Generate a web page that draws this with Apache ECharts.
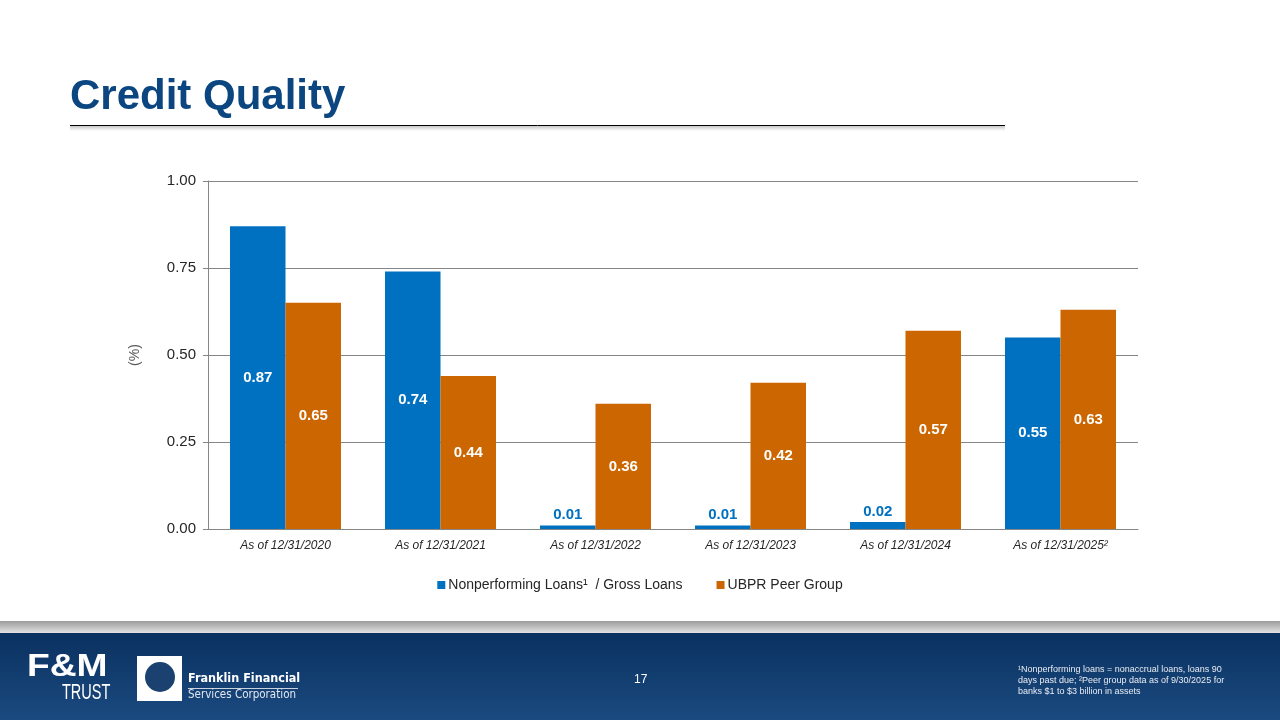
<!DOCTYPE html>
<html>
<head>
    <meta charset="utf-8">
    <title>Credit Quality</title>
    <script src="https://cdn.jsdelivr.net/npm/echarts@6/dist/echarts.min.js"></script>
    <style>
        html, body { margin: 0; padding: 0; background: #fff; }
        #chart1 { width: 1280px; height: 720px; }
    </style>
</head>
<body>
<div id="chart1"></div>
<script type="text/javascript">
    var categories = ['As of 12/31/2020', 'As of 12/31/2021', 'As of 12/31/2022',
        'As of 12/31/2023', 'As of 12/31/2024', 'As of 12/31/2025\u00B2'];
    var nplValues = [0.87, 0.74, 0.01, 0.01, 0.02, 0.55];
    var peerValues = [0.65, 0.44, 0.36, 0.42, 0.57, 0.63];
    var seriesNames = ['Nonperforming Loans\u00B9  / Gross Loans', 'UBPR Peer Group'];
    var yTicks = [0, 0.25, 0.5, 0.75, 1];

    var BLUE = '#0070C0';
    var ORANGE = '#CC6600';

    // tiny bars get their label above the bar in the bar colour
    function withLabels(values, color) {
        return values.map(function (v) {
            if (v < 0.1) {
                return { value: v, label: { position: 'top', color: color, distance: 3 } };
            }
            return v;
        });
    }

    var myChart1 = echarts.init(document.getElementById('chart1'));

    myChart1.setOption({
        animation: false,
        textStyle: { fontFamily: 'Liberation Sans, Arial, sans-serif' },
        grid: { left: 208, right: 142, top: 181, bottom: 191 },
        legend: {
            data: seriesNames,
            left: 'center',
            top: 573,
            itemWidth: 8,
            itemHeight: 8,
            itemGap: 34,
            icon: 'rect',
            textStyle: { fontSize: 14, color: '#262626', padding: [0, 0, 0, -2] }
        },
        xAxis: {
            type: 'category',
            data: categories,
            axisLine: { lineStyle: { color: '#868686' } },
            axisTick: { show: false },
            axisLabel: { fontSize: 12, fontStyle: 'italic', color: '#262626', margin: 11 }
        },
        yAxis: {
            type: 'value',
            min: 0,
            max: 1,
            interval: 0.25,
            name: '(%)',
            nameLocation: 'middle',
            nameGap: 66,
            nameRotate: 90,
            nameTextStyle: { fontSize: 14, color: '#595959' },
            axisLine: { show: true, lineStyle: { color: '#868686' } },
            axisTick: { show: true, length: 5, lineStyle: { color: '#868686' } },
            splitLine: { lineStyle: { color: '#868686' } },
            axisLabel: {
                fontSize: 15,
                color: '#262626',
                margin: 12,
                formatter: function (v) {
                    return yTicks.indexOf(v) >= 0 ? v.toFixed(2) : '';
                }
            }
        },
        series: [
            {
                name: seriesNames[0],
                type: 'bar',
                data: withLabels(nplValues, BLUE),
                barGap: '0%',
                barCategoryGap: '28.4%',
                itemStyle: { color: BLUE },
                label: {
                    show: true, position: 'inside', color: '#fff',
                    fontSize: 15, fontWeight: 'bold',
                    formatter: function (p) { return p.value.toFixed(2); }
                }
            },
            {
                name: seriesNames[1],
                type: 'bar',
                data: withLabels(peerValues, ORANGE),
                itemStyle: { color: ORANGE },
                label: {
                    show: true, position: 'inside', color: '#fff',
                    fontSize: 15, fontWeight: 'bold',
                    formatter: function (p) { return p.value.toFixed(2); }
                }
            }
        ],
        graphic: [
            {
                type: 'text', left: 70, top: 76,
                style: { text: 'Credit Quality', fill: '#0B4680', font: 'bold 42px "Liberation Sans", Arial, sans-serif' }
            },
            { type: 'rect', shape: { x: 70, y: 126, width: 935, height: 5 },
              style: { fill: new echarts.graphic.LinearGradient(0, 0, 0, 1, [
                  { offset: 0, color: '#c8c8c8' }, { offset: 1, color: '#ffffff' }]) } },
            { type: 'line', shape: { x1: 70, y1: 125.5, x2: 1005, y2: 125.5 },
              style: { stroke: '#000', lineWidth: 1 } },
            // footer bands
            { type: 'rect', shape: { x: 0, y: 621, width: 1280, height: 12 },
              style: { fill: new echarts.graphic.LinearGradient(0, 0, 0, 1, [
                  { offset: 0, color: '#9c9c9c' }, { offset: 1, color: '#e2e2e2' }]) } },
            { type: 'rect', shape: { x: 0, y: 633, width: 1280, height: 87 },
              style: { fill: new echarts.graphic.LinearGradient(0, 0, 0, 1, [
                  { offset: 0, color: '#0a3160' }, { offset: 1, color: '#1b4a80' }]) } },
            // F&M Trust logo
            { type: 'text', x: 27, y: 652, scaleX: 1.2,
              style: { text: 'F&M', fill: '#fff', font: 'bold 31px "Liberation Sans", Arial, sans-serif' } },
            { type: 'text', x: 62, y: 682, scaleX: 0.66,
              style: { text: 'TRUST', fill: '#fff', font: '22px "Liberation Sans", Arial, sans-serif' } },
            // Franklin Financial logo
            { type: 'rect', shape: { x: 137, y: 656, width: 45, height: 45 }, style: { fill: '#fff' } },
            { type: 'circle', shape: { cx: 160, cy: 677, r: 15 }, style: { fill: '#1b4170' } },
            { type: 'text', left: 188, top: 672,
              style: { text: 'Franklin Financial', fill: '#fff', font: 'bold 12.5px "DejaVu Sans Condensed", "Open Sans", sans-serif' } },
            { type: 'line', shape: { x1: 188, y1: 688.5, x2: 298, y2: 688.5 }, style: { stroke: '#c9d3e0', lineWidth: 1 } },
            { type: 'text', left: 188, top: 689,
              style: { text: 'Services Corporation', fill: '#dfe6ef', font: '11.5px "DejaVu Sans Condensed", "Open Sans", sans-serif' } },
            // page number
            { type: 'text', left: 634, top: 674,
              style: { text: '17', fill: '#fff', font: '12px "Liberation Sans", Arial, sans-serif' } },
            // footnote
            { type: 'text', left: 1018, top: 664,
              style: {
                  text: '\u00B9Nonperforming loans = nonaccrual loans, loans 90\ndays past due; \u00B2Peer group data as of 9/30/2025 for\nbanks $1 to $3 billion in assets',
                  fill: '#e8ecf2', lineHeight: 11,
                  font: '9px "Liberation Sans", Arial, sans-serif'
              } }
        ]
    });
</script>
</body>
</html>
